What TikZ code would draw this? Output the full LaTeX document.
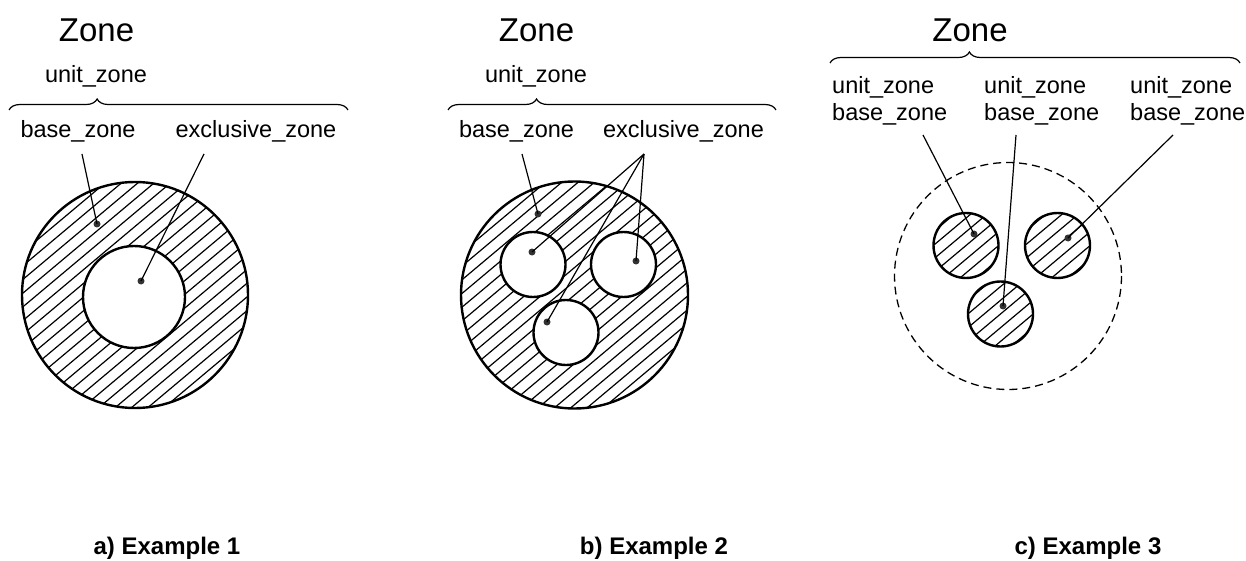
\documentclass[tikz,border=0pt]{standalone}
\usepackage{fontspec}
\setmainfont{Liberation Sans}
\usetikzlibrary{decorations.pathreplacing}
\begin{document}
\begin{tikzpicture}[x=1pt,y=-1pt,
  title/.style={font=\fontsize{33}{40}\selectfont, anchor=base, inner sep=0},
  lbl/.style={font=\fontsize{23.5}{27}\selectfont, anchor=base, inner sep=0},
  stack/.style={font=\fontsize{23.5}{27}\selectfont, align=left, anchor=north west, inner sep=0},
  caption/.style={font=\fontsize{24}{28}\selectfont\bfseries, anchor=base, inner sep=0},
  zonebrace/.style={decorate, decoration={brace, amplitude=11pt, aspect=#1}, line width=1.2pt},
  ring/.style={line width=2.4pt},
  hole/.style={line width=2.4pt, fill=white},
  outer/.style={line width=1.3pt, dash pattern=on 8pt off 5pt},
  leader/.style={line width=1.2pt},
  dot/.style={circle, fill=black!80, inner sep=0, minimum size=7pt},
  hatchline/.style={line width=1.2pt}]
\useasboundingbox (0,0) rectangle (1246,561);

% diagonal hatching inside a circle
\newcommand{\hatchdisc}[3]{%
  \begin{scope}
    \clip (#1,#2) circle (#3);
    \foreach \k in {-126,-115.5,...,126}{
      \draw[hatchline] ({#1+\k*0.643-140*0.766},{#2+\k*0.766+140*0.643})
                    -- ({#1+\k*0.643+140*0.766},{#2+\k*0.766-140*0.643});
    }
  \end{scope}}

% ---------------- a) Example 1 ----------------
\node[title] (za) at (96.5,42) {Zone};
\node[lbl] (ua) at (96,83) {unit\_zone};
\draw[zonebrace=0.26] (9,110) -- (348,110);
\node[lbl] (ba) at (78,138) {base\_zone};
\node[lbl] (ea) at (256,138) {exclusive\_zone};
\hatchdisc{135}{295}{113}
\draw[ring] (135,295) circle (113);
\draw[hole] (134,297) circle (51);
\node[dot] (da1) at (97,224) {};
\node[dot] (da2) at (141,281) {};
\coordinate (la1) at (82,154);
\coordinate (la2) at (204,154);
\draw[leader] (la1) -- (da1.center);
\draw[leader] (la2) -- (da2.center);
\node[caption] (ca) at (167,554) {a) Example 1};

% ---------------- b) Example 2 ----------------
\node[title] (zb) at (536.5,42) {Zone};
\node[lbl] (ub) at (536,83) {unit\_zone};
\draw[zonebrace=0.27] (448,110) -- (776,110);
\node[lbl] (bb) at (516.5,138) {base\_zone};
\node[lbl] (eb) at (683.5,138) {exclusive\_zone};
\hatchdisc{574.5}{295}{113.5}
\draw[ring] (574.5,295) circle (113.5);
\draw[hole] (533,264.5) circle (32.5);
\draw[hole] (623.5,264.5) circle (32.5);
\draw[hole] (566,332.5) circle (32.5);
\node[dot] (db0) at (538,214) {};
\node[dot] (db1) at (532,252) {};
\node[dot] (db2) at (636,261) {};
\node[dot] (db3) at (547,322) {};
\coordinate (lb0) at (522,154);
\coordinate (lb1) at (644,154);
\draw[leader] (lb0) -- (db0.center);
\draw[leader] (lb1) -- (db1.center);
\draw[leader] (lb1) -- (db2.center);
\draw[leader] (lb1) -- (db3.center);
\node[caption] (cb) at (654,554) {b) Example 2};

% ---------------- c) Example 3 ----------------
\node[title] (zc) at (970,42) {Zone};
\draw[zonebrace=0.34] (830,63) -- (1240,63);
\node[stack] (sc1) at (832,76) {unit\_zone\\base\_zone};
\node[stack] (sc2) at (984,76) {unit\_zone\\base\_zone};
\node[stack] (sc3) at (1130,76) {unit\_zone\\base\_zone};
\draw[outer] (1008,276) circle (113.5);
\hatchdisc{966}{245.5}{32.5}
\hatchdisc{1057.5}{245.5}{32.5}
\hatchdisc{1000.5}{314}{32.5}
\draw[ring] (966,245.5) circle (32.5);
\draw[ring] (1057.5,245.5) circle (32.5);
\draw[ring] (1000.5,314) circle (32.5);
\node[dot] (dc1) at (974,234) {};
\node[dot] (dc2) at (1068,238) {};
\node[dot] (dc3) at (1003,306) {};
\coordinate (lc1) at (923,135);
\coordinate (lc2) at (1016,135);
\coordinate (lc3) at (1173,135);
\draw[leader] (lc1) -- (dc1.center);
\draw[leader] (lc2) -- (dc3.center);
\draw[leader] (lc3) -- (dc2.center);
\node[caption] (cc) at (1088,554) {c) Example 3};
\end{tikzpicture}
\end{document}
